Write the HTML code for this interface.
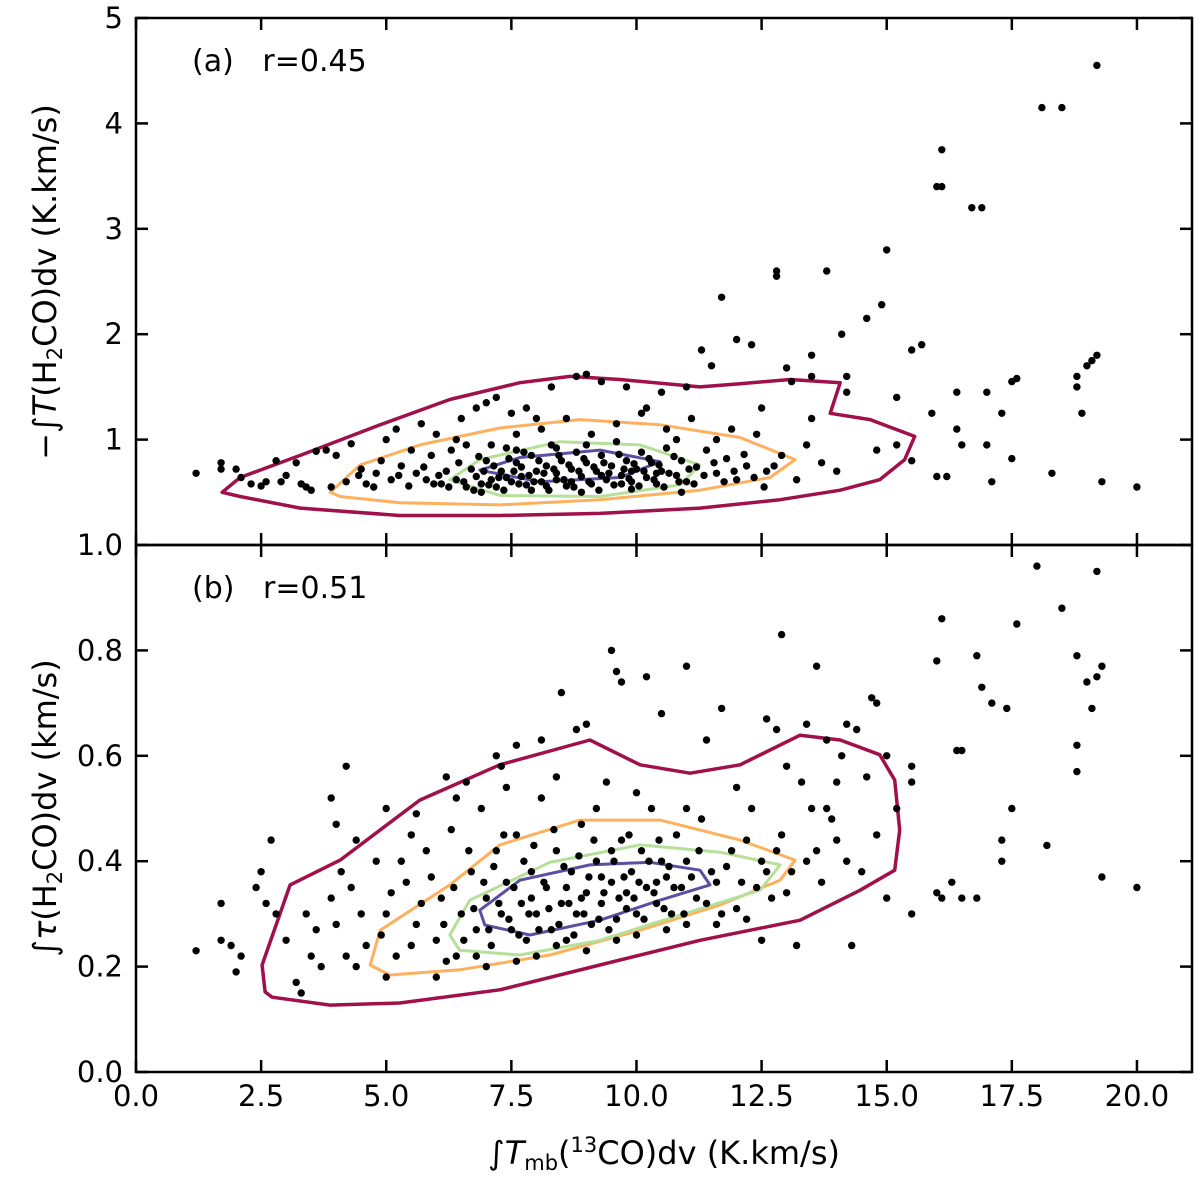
<!DOCTYPE html>
<html><head><meta charset="utf-8">
<style>
html,body{margin:0;padding:0;background:#fff;}
svg{display:block;font-family:"DejaVu Sans","Liberation Sans",sans-serif;}
</style></head>
<body>
<svg id="chart" width="1200" height="1183" viewBox="0 0 1200 1183" xmlns="http://www.w3.org/2000/svg"></svg>
<script>
// ---- data ----
const xTicks = [0,2.5,5,7.5,10,12.5,15,17.5,20];
const xTickLabels = ["0.0","2.5","5.0","7.5","10.0","12.5","15.0","17.5","20.0"];
const yTicksA = [1,2,3,4,5];
const yTickLabelsA = ["1","2","3","4","5"];
const yTicksB = [0,0.2,0.4,0.6,0.8,1.0];
const yTickLabelsB = ["0.0","0.2","0.4","0.6","0.8","1.0"];

const scatterA = [
[1.2,0.68],[1.7,0.78],[1.7,0.72],[2.0,0.72],[2.1,0.64],[2.3,0.58],[2.5,0.56],[2.6,0.6],[2.8,0.8],[3.0,0.66],[3.2,0.78],[3.4,0.55],[3.5,0.52],[3.6,0.89],[3.8,0.9],[4.0,0.85],[4.3,0.96],[4.5,0.72],[4.8,0.68],[5.0,1.0],[5.2,1.1],[5.5,0.9],[5.8,0.62],[6.0,1.05],[6.2,0.7],[6.5,1.2],[6.8,1.3],[7.0,1.35],[7.2,1.4],[7.5,1.25],[7.8,1.3],[8.0,1.2],[8.3,1.5],[8.8,1.6],[9.0,1.62],[9.3,1.55],[9.8,1.5],[10.2,1.3],[10.5,1.45],[11.0,1.5],[11.3,1.85],[11.5,1.7],[11.7,2.35],[12.0,1.95],[12.3,1.9],[12.8,2.6],[12.8,2.55],[13.0,1.68],[13.1,1.55],[13.5,1.8],[13.8,2.6],[13.5,1.6],[14.1,2.0],[14.2,1.6],[14.6,2.15],[14.9,2.28],[15.0,2.8],[15.2,1.4],[15.5,1.85],[15.7,1.9],[15.2,0.95],[15.5,0.8],[16.0,0.65],[16.2,0.65],[16.0,3.4],[16.1,3.4],[16.1,3.75],[16.7,3.2],[16.9,3.2],[16.4,1.45],[16.4,1.1],[16.5,0.95],[17.0,1.45],[17.0,0.95],[17.1,0.6],[17.3,1.25],[17.5,1.55],[17.6,1.58],[17.5,0.82],[18.1,4.15],[18.5,4.15],[18.3,0.68],[18.8,1.6],[18.8,1.5],[18.9,1.25],[19.0,1.7],[19.1,1.75],[19.2,1.8],[19.2,4.55],[19.3,0.6],[20.0,0.55],[15.9,1.25],[14.2,1.45],[13.5,1.2],[12.5,1.3],[14.8,0.9],[14.0,0.7],
[3.9,0.55],[4.2,0.6],[4.6,0.58],[4.9,0.8],[5.1,0.62],[5.3,0.75],[5.6,0.68],[5.9,0.85],[6.1,0.58],[6.3,0.9],[6.4,0.62],[6.6,0.55],[6.7,0.72],[6.8,0.65],[6.9,0.58],[7.0,0.8],[7.1,0.62],[7.2,0.55],[7.3,0.7],[7.4,0.92],[7.5,0.6],[7.6,0.78],[7.7,0.65],[7.8,0.57],[7.9,0.85],[8.0,0.7],[8.1,0.6],[8.2,0.75],[8.3,0.95],[8.4,0.62],[8.5,0.8],[8.6,0.56],[8.7,0.72],[8.8,0.88],[8.9,0.65],[9.0,0.78],[9.1,0.58],[9.2,0.7],[9.3,0.85],[9.4,0.62],[9.5,0.75],[9.6,0.98],[9.7,0.66],[9.8,0.8],[9.9,0.6],[10.0,0.72],[10.1,0.88],[10.2,0.64],[10.3,0.78],[10.4,0.58],[10.5,0.7],[10.6,0.92],[10.8,0.66],[10.9,0.8],[11.0,0.6],[11.2,0.74],[11.4,0.9],[11.6,0.68],[11.8,0.82],[12.0,0.62],[12.2,0.75],[12.4,1.05],[12.6,0.7],[12.9,0.85],[13.2,0.62],[13.4,0.95],[13.7,0.78],[7.1,0.95],[7.6,1.05],[8.1,1.1],[8.6,1.2],[9.1,1.05],[9.6,1.15],[10.1,1.25],[10.6,1.1],[11.1,1.2],[11.6,1.0],[6.4,1.0],[5.7,1.15],[6.9,0.5],[7.9,0.52],[8.9,0.5],[9.9,0.53],[10.9,0.5],[8.4,0.68],[8.7,0.6],[9.3,0.66],[7.4,0.64],[10.4,0.68],[9.9,0.7],[8.2,0.56],[7.7,0.74],[9.7,0.58],
[6.05,0.66],[6.25,0.55],[6.45,0.78],[6.55,0.6],[6.75,0.52],[6.85,0.84],[6.95,0.7],[7.05,0.57],[7.15,0.75],[7.25,0.64],[7.35,0.52],[7.45,0.82],[7.55,0.7],[7.65,0.58],[7.75,0.88],[7.85,0.66],[7.95,0.6],[8.05,0.8],[8.15,0.68],[8.25,0.52],[8.35,0.72],[8.45,0.85],[8.55,0.62],[8.65,0.76],[8.75,0.55],[8.85,0.7],[8.95,0.82],[9.05,0.6],[9.15,0.74],[9.25,0.52],[9.35,0.78],[9.45,0.68],[9.55,0.57],[9.65,0.86],[9.75,0.72],[9.85,0.63],[9.95,0.77],[10.05,0.56],[10.15,0.7],[10.25,0.82],[10.35,0.62],[10.45,0.76],[10.55,0.55],[10.65,0.68],[10.75,0.84],[10.85,0.6],[11.05,0.72],[11.15,0.58],[11.35,0.66],[11.55,0.78],[11.75,0.6],[11.95,0.7],[12.15,0.86],[12.35,0.64],[12.55,0.55],[12.75,0.75],[5.45,0.56],[5.25,0.66],[5.75,0.74],[5.95,0.58],[4.45,0.66],[4.75,0.55],[3.3,0.58],[2.9,0.6],[8.4,0.92],[9.0,0.95],[7.6,0.9],[10.8,1.0],[11.9,1.1],[6.6,0.95]
];

const scatterB = [
[1.2,0.23],[1.7,0.32],[1.7,0.25],[1.9,0.24],[2.0,0.19],[2.1,0.22],[2.4,0.35],[2.5,0.38],[2.6,0.32],[2.7,0.44],[2.8,0.3],[3.2,0.17],[3.3,0.15],[3.5,0.22],[3.9,0.52],[4.0,0.47],[4.2,0.58],[4.4,0.2],[5.0,0.5],[5.5,0.45],[6.2,0.56],[6.6,0.55],[7.2,0.6],[7.3,0.58],[7.6,0.62],[8.1,0.63],[8.5,0.72],[8.8,0.65],[9.0,0.66],[9.5,0.8],[9.6,0.76],[9.7,0.74],[10.2,0.75],[10.5,0.68],[11.0,0.77],[11.4,0.63],[11.7,0.69],[12.6,0.67],[12.8,0.65],[12.9,0.83],[13.4,0.66],[13.6,0.77],[13.8,0.63],[14.2,0.66],[14.4,0.65],[14.7,0.71],[14.8,0.7],[15.0,0.6],[15.2,0.5],[15.5,0.55],[15.0,0.33],[15.5,0.3],[16.0,0.78],[16.1,0.86],[16.4,0.61],[16.5,0.61],[16.8,0.79],[16.9,0.73],[17.1,0.7],[16.0,0.34],[16.1,0.33],[16.3,0.36],[16.5,0.33],[16.8,0.33],[17.4,0.69],[17.5,0.5],[17.3,0.4],[17.3,0.44],[17.6,0.85],[18.0,0.96],[18.2,0.43],[18.5,0.88],[18.8,0.79],[18.8,0.62],[18.8,0.57],[19.0,0.74],[19.1,0.69],[19.2,0.95],[19.3,0.77],[19.3,0.37],[20.0,0.35],[19.2,0.75],[14.0,0.55],[13.5,0.5],[14.3,0.24],[13.2,0.24],[12.5,0.25],[15.5,0.58],[14.8,0.45],
[3.0,0.25],[3.4,0.3],[3.7,0.2],[4.0,0.28],[4.3,0.35],[4.6,0.24],[4.8,0.4],[5.0,0.3],[5.2,0.22],[5.4,0.36],[5.6,0.28],[5.8,0.42],[6.0,0.25],[6.1,0.33],[6.3,0.46],[6.4,0.22],[6.5,0.3],[6.7,0.38],[6.8,0.27],[6.9,0.5],[7.0,0.33],[7.1,0.24],[7.2,0.42],[7.3,0.3],[7.4,0.36],[7.5,0.27],[7.6,0.45],[7.7,0.32],[7.8,0.25],[7.9,0.38],[8.0,0.3],[8.1,0.52],[8.2,0.35],[8.3,0.27],[8.4,0.42],[8.5,0.32],[8.6,0.25],[8.7,0.38],[8.8,0.3],[8.9,0.47],[9.0,0.34],[9.1,0.28],[9.2,0.4],[9.3,0.32],[9.4,0.55],[9.5,0.36],[9.6,0.29],[9.7,0.44],[9.8,0.34],[9.9,0.38],[10.0,0.3],[10.1,0.42],[10.2,0.35],[10.3,0.5],[10.4,0.32],[10.5,0.4],[10.6,0.37],[10.7,0.3],[10.8,0.45],[10.9,0.35],[11.0,0.4],[11.2,0.33],[11.3,0.48],[11.5,0.38],[11.7,0.3],[11.9,0.42],[12.1,0.36],[12.3,0.5],[12.5,0.4],[12.7,0.33],[12.9,0.45],[13.1,0.38],[13.3,0.55],[13.6,0.42],[13.9,0.48],[14.2,0.4],[7.0,0.2],[8.0,0.22],[9.0,0.23],[10.0,0.26],[11.0,0.28],[6.0,0.18],[5.0,0.18],[8.6,0.35],[9.3,0.37],[9.8,0.31],[10.4,0.36],[7.9,0.33],[8.9,0.33],[9.5,0.42],
[3.6,0.27],[3.9,0.33],[4.2,0.22],[4.5,0.3],[4.9,0.26],[5.1,0.34],[5.3,0.4],[5.5,0.24],[5.7,0.32],[5.9,0.37],[6.15,0.28],[6.35,0.35],[6.55,0.25],[6.65,0.42],[6.75,0.31],[6.95,0.36],[7.05,0.27],[7.15,0.39],[7.25,0.32],[7.35,0.45],[7.45,0.29],[7.55,0.35],[7.65,0.26],[7.75,0.4],[7.85,0.3],[7.95,0.43],[8.05,0.27],[8.15,0.36],[8.25,0.31],[8.35,0.46],[8.45,0.28],[8.55,0.39],[8.65,0.32],[8.75,0.26],[8.85,0.41],[8.95,0.3],[9.05,0.37],[9.15,0.44],[9.25,0.29],[9.35,0.34],[9.45,0.27],[9.55,0.4],[9.65,0.33],[9.75,0.37],[9.85,0.45],[9.95,0.33],[10.05,0.36],[10.15,0.29],[10.25,0.4],[10.35,0.34],[10.45,0.44],[10.55,0.31],[10.65,0.39],[10.75,0.35],[10.95,0.3],[11.1,0.37],[11.25,0.42],[11.4,0.32],[11.6,0.36],[11.8,0.39],[12.0,0.31],[12.2,0.44],[12.4,0.35],[12.6,0.38],[12.8,0.42],[13.0,0.34],[13.4,0.4],[13.7,0.36],[14.0,0.44],[14.5,0.38],[6.2,0.21],[6.8,0.22],[7.6,0.21],[8.4,0.24],[9.6,0.25],[10.6,0.27],[11.6,0.28],[12.2,0.29],[4.1,0.38],[4.4,0.44],[5.6,0.49],[6.4,0.52],[7.4,0.54],[8.4,0.56],[9.2,0.5],[10.0,0.53],[11.0,0.5],[12.0,0.54],[13.0,0.58],[14.1,0.6],[14.6,0.56],[13.8,0.5]
];

// contours [x, y] in data units
const redA = [[1.72,0.50],[2.08,0.64],[3.28,0.85],[4.88,1.14],[6.27,1.38],[7.67,1.54],[8.67,1.60],[9.67,1.57],[11.27,1.50],[12.07,1.53],[13.07,1.57],[14.07,1.54],[13.87,1.25],[14.67,1.19],[15.56,1.03],[15.36,0.81],[14.86,0.62],[14.07,0.52],[12.87,0.43],[11.27,0.35],[9.27,0.30],[7.27,0.28],[5.27,0.28],[3.28,0.35],[2.08,0.46]];
const orangeA = [[3.88,0.50],[4.48,0.76],[5.67,0.95],[7.27,1.11],[8.87,1.19],[10.47,1.14],[12.07,1.02],[13.17,0.81],[12.67,0.64],[11.27,0.52],[9.27,0.43],[7.27,0.38],[5.27,0.40],[4.08,0.46]];
const greenA = [[6.27,0.62],[6.87,0.81],[8.47,0.98],[10.07,0.95],[11.27,0.76],[10.87,0.57],[9.27,0.46],[7.27,0.47]];
const purpleA = [[6.87,0.71],[7.67,0.83],[9.27,0.90],[10.47,0.79],[9.67,0.64],[8.07,0.60]];
const redB = [[2.58,0.152],[2.52,0.203],[3.08,0.355],[4.08,0.402],[5.67,0.516],[7.27,0.583],[9.07,0.630],[10.07,0.583],[11.07,0.567],[12.07,0.583],[13.27,0.639],[14.07,0.630],[14.86,0.602],[15.16,0.554],[15.26,0.459],[15.16,0.383],[14.47,0.345],[13.27,0.288],[11.27,0.250],[9.27,0.203],[7.27,0.156],[5.27,0.131],[3.88,0.127],[2.72,0.142]];
const orangeB = [[4.68,0.203],[4.88,0.269],[6.27,0.355],[7.27,0.431],[8.87,0.478],[10.47,0.478],[12.07,0.440],[13.17,0.402],[12.87,0.364],[11.67,0.317],[10.07,0.269],[8.27,0.222],[6.47,0.194],[5.07,0.184]];
const greenB = [[6.27,0.260],[6.67,0.326],[8.27,0.398],[10.07,0.431],[11.67,0.417],[12.87,0.393],[12.47,0.345],[10.87,0.298],[9.27,0.250],[7.67,0.222],[6.47,0.231]];
const purpleB = [[6.87,0.307],[7.67,0.364],[9.07,0.393],[10.27,0.398],[11.27,0.383],[11.47,0.355],[10.47,0.326],[9.27,0.288],[7.87,0.260],[6.97,0.279]];

// ---- layout ----
const NS = "http://www.w3.org/2000/svg";
const svg = document.getElementById('chart');
const L = 136, R = 1192, X0 = 0, X1 = 21.1;
const xs = v => L + (v - X0) / (X1 - X0) * (R - L);
const panelA = {top:18, bot:545, y0:0, y1:5};
const panelB = {top:545, bot:1072, y0:0, y1:1};
const ysOf = p => v => p.bot - (v - p.y0) / (p.y1 - p.y0) * (p.bot - p.top);
function mk(tag, attrs, parent){
  const e = document.createElementNS(NS, tag);
  for (const k in attrs) e.setAttribute(k, attrs[k]);
  (parent || svg).appendChild(e);
  return e;
}

function drawPanel(p, name, pts, contours, yTicks, yLabels, label, showX){
  const ys = ysOf(p);
  const g = mk('g', {});
  
  
  const colors = ['#a0104a', '#fdb05e', '#b5e09a', '#5a4fa0'];
  const cnames = ['contour-outer', 'contour-second', 'contour-third', 'contour-inner'];
  contours.forEach((c, i) => {
    const d = c.map((q, j) => (j ? 'L' : 'M') + xs(q[0]).toFixed(1) + ',' + ys(q[1]).toFixed(1)).join('') + 'Z';
    const path = mk('path', {d: d, fill: 'none', stroke: colors[i], 'stroke-width': i === 0 ? 3.5 : 3, 'stroke-linejoin': 'round'}, g);
    
    
  });
  const pg = mk('g', {fill: '#000'}, g);
  
  
  pts.forEach(q => {
    const c = mk('circle', {cx: xs(q[0]).toFixed(1), cy: ys(q[1]).toFixed(1), r: 3.7}, pg);
    
    
  });
  const fr = mk('rect', {x: L, y: p.top, width: R - L, height: p.bot - p.top, fill: 'none', stroke: '#000', 'stroke-width': 2.5}, g);
  
  
  xTicks.forEach((t, i) => {
    const x = xs(t);
    mk('line', {x1: x, x2: x, y1: p.bot, y2: p.bot - 12, stroke: '#000', 'stroke-width': 2.5}, g);
    mk('line', {x1: x, x2: x, y1: p.top, y2: p.top + 12, stroke: '#000', 'stroke-width': 2.5}, g);
    if (showX) {
      const tx = mk('text', {x: x, y: p.bot + 34, 'font-size': 29, 'text-anchor': 'middle'}, g);
      tx.textContent = xTickLabels[i];
      
      
    }
  });
  yTicks.forEach((t, i) => {
    const y = ys(t);
    mk('line', {x1: L, x2: L + 12, y1: y, y2: y, stroke: '#000', 'stroke-width': 2.5}, g);
    mk('line', {x1: R, x2: R - 12, y1: y, y2: y, stroke: '#000', 'stroke-width': 2.5}, g);
    const ty = mk('text', {x: L - 13, y: y + 10, 'font-size': 29, 'text-anchor': 'end'}, g);
    ty.textContent = yLabels[i];
    
    
  });
  const lt = mk('text', {x: 192, y: p.top + 53, 'font-size': 30}, g);
  lt.setAttribute('xml:space', 'preserve');
  lt.textContent = label;
  
  
}

drawPanel(panelA, 'a', scatterA, [redA, orangeA, greenA, purpleA], yTicksA, yTickLabelsA, '(a)\u00a0\u00a0\u00a0r=0.45', false);
drawPanel(panelB, 'b', scatterB, [redB, orangeB, greenB, purpleB], yTicksB, yTickLabelsB, '(b)\u00a0\u00a0\u00a0r=0.51', true);

const t1 = mk('text', {transform: 'translate(56,282) rotate(-90)', 'font-size': 32, 'text-anchor': 'middle'});
t1.innerHTML = '−∫<tspan font-style="italic">T</tspan>(H<tspan font-size="21" dy="6">2</tspan><tspan dy="-6">CO)dv (K.km/s)</tspan>';


const t2 = mk('text', {transform: 'translate(56,808) rotate(-90)', 'font-size': 32, 'text-anchor': 'middle'});
t2.innerHTML = '∫<tspan font-style="italic">τ</tspan>(H<tspan font-size="21" dy="6">2</tspan><tspan dy="-6">CO)dv (km/s)</tspan>';


const t3 = mk('text', {x: 664, y: 1164, 'font-size': 32, 'text-anchor': 'middle'});
t3.innerHTML = '∫<tspan font-style="italic">T</tspan><tspan font-size="21" dy="6">mb</tspan><tspan dy="-6">(</tspan><tspan font-size="21" dy="-12">13</tspan><tspan dy="12">CO)dv (K.km/s)</tspan>';


</script>
</body></html>
